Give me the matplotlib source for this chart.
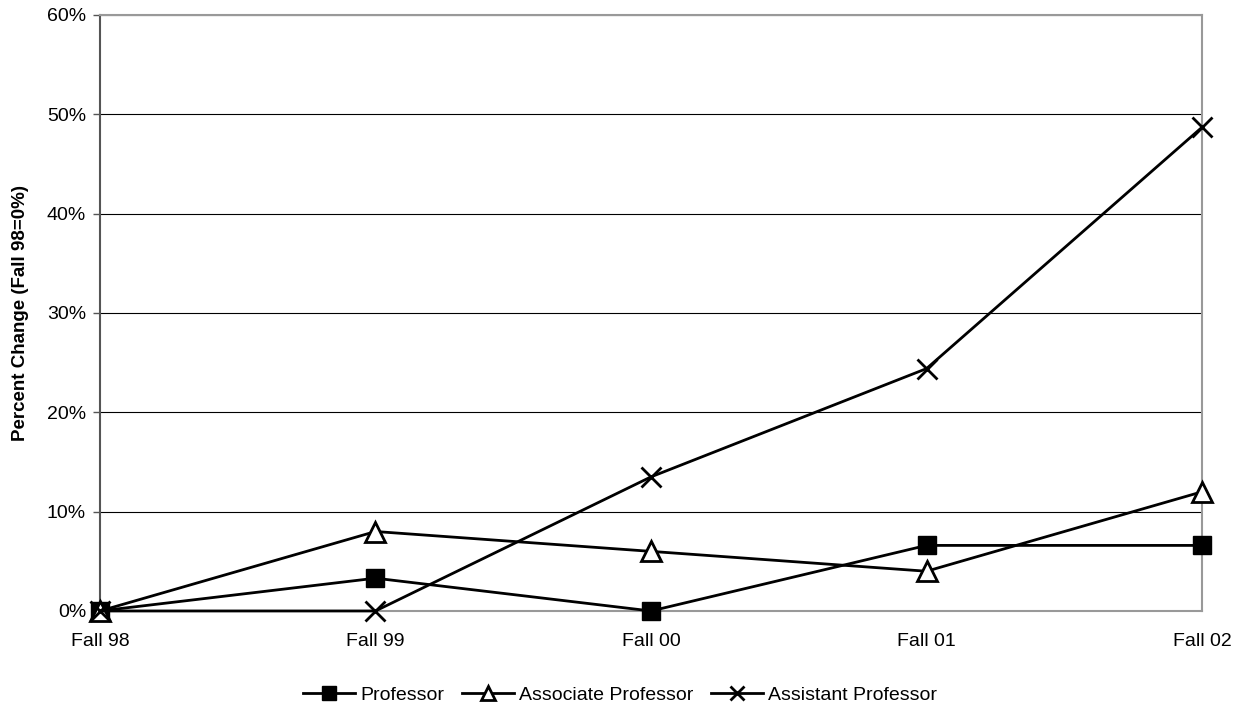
import matplotlib
matplotlib.use("Agg")
import matplotlib.pyplot as plt
from matplotlib.ticker import PercentFormatter

plt.rcParams["font.family"] = ["Liberation Sans", "DejaVu Sans"]

terms = ["Fall 98", "Fall 99", "Fall 00", "Fall 01", "Fall 02"]
professor = [0.0, 3.3, 0.0, 6.6, 6.6]
associate = [0.0, 8.0, 6.0, 4.0, 12.0]
assistant = [0.0, 0.0, 13.5, 24.4, 48.7]

fig = plt.figure(figsize=(12.4, 7.06), dpi=100)
ax = fig.add_axes([0.0806, 0.1346, 0.8888, 0.8442])

x = range(len(terms))
ax.plot(x, professor, color="black", linewidth=2, marker="s", markersize=13,
        markerfacecolor="black", label="Professor", clip_on=False, zorder=3)
ax.plot(x, associate, color="black", linewidth=2, marker="^", markersize=14,
        markerfacecolor="white", markeredgewidth=2, label="Associate Professor",
        clip_on=False, zorder=3)
ax.plot(x, assistant, color="black", linewidth=2, marker="x", markersize=14,
        markeredgewidth=2, label="Assistant Professor", clip_on=False, zorder=4)

ax.set_xlim(0, len(terms) - 1)
ax.set_ylim(0, 60)
ax.set_yticks(range(0, 61, 10))
ax.yaxis.set_major_formatter(PercentFormatter(decimals=0))
ax.set_xticks(list(x))
ax.set_xticklabels(terms)
ax.tick_params(axis="x", length=0, pad=16, labelsize=14)
ax.tick_params(axis="y", length=5, width=1, color="#555555", labelsize=14, pad=5)

ax.grid(axis="y", color="black", linewidth=0.8)
ax.set_axisbelow(True)
for side in ["top", "right", "bottom"]:
    ax.spines[side].set_color("#999999")
    ax.spines[side].set_linewidth(1.5)
ax.spines["left"].set_color("#555555")
ax.spines["left"].set_linewidth(1.5)

ax.set_ylabel("Percent Change (Fall 98=0%)", fontsize=13.5, fontweight="bold", labelpad=13)

# legend centred on the whole figure, below the axis labels
fig.legend(loc="upper center", bbox_to_anchor=(0.5, 0.0527), ncol=3, frameon=False,
           fontsize=14, handlelength=2.7, handletextpad=0.25, columnspacing=0.9,
           markerscale=0.75)

fig.savefig("out.png", dpi=100)
